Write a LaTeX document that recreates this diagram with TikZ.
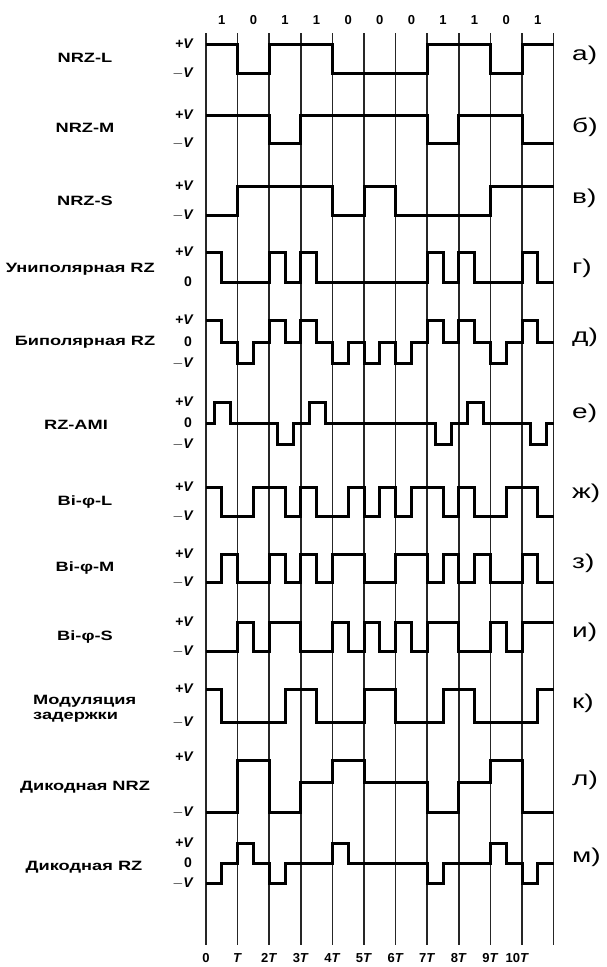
\documentclass[tikz,border=0pt]{standalone}
\usepackage{fontspec}
\setmainfont{Liberation Sans}
\newfontfamily\namefont{Liberation Sans}[FakeStretch=1.35]
\newfontfamily\letfont{Liberation Sans}[FakeStretch=1.4]
\begin{document}
\begin{tikzpicture}[x=1pt,y=-1pt,
  sig/.style={line width=3pt},
  gridline/.style={line width=1.5pt,black!85},
  nm/.style={font=\namefont\bfseries\fontsize{13.5}{15}\selectfont,align=center,inner sep=0pt},
  lv/.style={font=\bfseries\fontsize{14}{15}\selectfont,anchor=east,inner sep=0pt},
  lt/.style={font=\letfont\fontsize{20}{22}\selectfont,anchor=west,inner sep=0pt},
  bitlbl/.style={font=\bfseries\fontsize{13}{14}\selectfont,inner sep=0pt},
  tlbl/.style={font=\bfseries\fontsize{13}{14}\selectfont,inner sep=0pt}]
\useasboundingbox (0,0) rectangle (606,967);
\fill[white] (0,0) rectangle (606,967);

% row names
\node[nm] (nA) at (85,58) {NRZ-L};
\node[nm] (nB) at (85,128) {NRZ-M};
\node[nm] (nC) at (85,201) {NRZ-S};
\node[nm,anchor=east] (nD) at (155,269) {Униполярная RZ};
\node[nm] (nE) at (85,342) {Биполярная RZ};
\node[nm] (nF) at (76,425) {RZ-AMI};
\node[nm] (nG) at (85,502) {Bi-φ-L};
\node[nm] (nH) at (85,568) {Bi-φ-M};
\node[nm] (nI) at (85,637) {Bi-φ-S};
\node[nm,align=left,anchor=west] (nJ) at (33,709) {Модуляция\\задержки};
\node[nm] (nK) at (85,787) {Дикодная NRZ};
\node[nm] (nL) at (84,867) {Дикодная RZ};

% level labels
\node[lv] (lA1) at (194,44) {+\textit{V}};
\node[lv] (lA2) at (194,73) {\(-\)\textit{V}};
\node[lv] (lB1) at (194,115) {+\textit{V}};
\node[lv] (lB2) at (194,143) {\(-\)\textit{V}};
\node[lv] (lC1) at (194,186) {+\textit{V}};
\node[lv] (lC2) at (194,215) {\(-\)\textit{V}};
\node[lv] (lD1) at (194,252) {+\textit{V}};
\node[lv] (lD2) at (192,282) {0};
\node[lv] (lE1) at (194,320) {+\textit{V}};
\node[lv] (lE2) at (192,342) {0};
\node[lv] (lE3) at (194,363) {\(-\)\textit{V}};
\node[lv] (lF1) at (194,402) {+\textit{V}};
\node[lv] (lF2) at (192,423) {0};
\node[lv] (lF3) at (194,444) {\(-\)\textit{V}};
\node[lv] (lG1) at (194,487) {+\textit{V}};
\node[lv] (lG2) at (194,516) {\(-\)\textit{V}};
\node[lv] (lH1) at (194,554) {+\textit{V}};
\node[lv] (lH2) at (194,582) {\(-\)\textit{V}};
\node[lv] (lI1) at (194,622) {+\textit{V}};
\node[lv] (lI2) at (194,651) {\(-\)\textit{V}};
\node[lv] (lJ1) at (194,689) {+\textit{V}};
\node[lv] (lJ2) at (194,722) {\(-\)\textit{V}};
\node[lv] (lK1) at (194,757) {+\textit{V}};
\node[lv] (lK2) at (194,812) {\(-\)\textit{V}};
\node[lv] (lL1) at (194,843) {+\textit{V}};
\node[lv] (lL2) at (192,863) {0};
\node[lv] (lL3) at (194,883) {\(-\)\textit{V}};

% letters
\node[lt] (cA) at (572,55) {а)};
\node[lt] (cB) at (572,127) {б)};
\node[lt] (cC) at (572,198) {в)};
\node[lt] (cD) at (572,268) {г)};
\node[lt] (cE) at (572,337) {д)};
\node[lt] (cF) at (572,413) {е)};
\node[lt] (cG) at (572,493) {ж)};
\node[lt] (cH) at (572,563) {з)};
\node[lt] (cI) at (572,632) {и)};
\node[lt] (cJ) at (572,703) {к)};
\node[lt] (cK) at (572,780) {л)};
\node[lt] (cL) at (572,857) {м)};

\begin{scope}[xshift=206pt,x=31.6pt,y=-1pt]
  % grid
  \foreach \k in {0,...,11} \draw[gridline] (\k,33) -- (\k,945);
  % bit labels
  \foreach \b [count=\i from 0] in {1,0,1,1,0,0,0,1,1,0,1}
    \node[bitlbl] (bit\i) at (\i+0.5,20) {\b};
  % time labels
  \node[tlbl] (t0) at (0,958) {0};
  \node[tlbl] (t1) at (1,958) {\textit{T}};
  \foreach \k in {2,...,9} \node[tlbl] (t\k) at (\k,958) {\k\textit{T}};
  \node[tlbl] (t10) at (9.85,958) {10\textit{T}};

  % a) NRZ-L
  \draw[sig] (0,44) -| (1,73) -| (2,44) -| (4,73) -| (7,44) -| (9,73) -| (10,44) -- (11,44);
  % b) NRZ-M
  \draw[sig] (0,115) -| (2,143) -| (3,115) -| (7,143) -| (8,115) -| (10,143) -- (11,143);
  % c) NRZ-S
  \draw[sig] (0,215) -| (1,186) -| (4,215) -| (5,186) -| (6,215) -| (9,186) -- (11,186);
  % d) unipolar RZ
  \draw[sig] (0,252) -| (0.5,282) -| (2,252) -| (2.5,282) -| (3,252) -| (3.5,282)
     -| (7,252) -| (7.5,282) -| (8,252) -| (8.5,282) -| (10,252) -| (10.5,282) -- (11,282);
  % e) bipolar RZ
  \draw[sig] (0,320) -| (0.5,342) -| (1,363) -| (1.5,342) -| (2,320) -| (2.5,342)
     -| (3,320) -| (3.5,342) -| (4,363) -| (4.5,342) -| (5,363) -| (5.5,342)
     -| (6,363) -| (6.5,342) -| (7,320) -| (7.5,342) -| (8,320) -| (8.5,342)
     -| (9,363) -| (9.5,342) -| (10,320) -| (10.5,342) -- (11,342);
  % f) RZ-AMI
  \draw[sig] (0,423) -| (0.27,402) -| (0.77,423) -| (2.27,444) -| (2.77,423)
     -| (3.27,402) -| (3.77,423) -| (7.27,444) -| (7.77,423) -| (8.27,402)
     -| (8.77,423) -| (10.27,444) -| (10.77,423) -- (11,423);
  % g) Bi-phi-L
  \draw[sig] (0,487) -| (0.5,516) -| (1.5,487) -| (2.5,516) -| (3,487) -| (3.5,516)
     -| (4.5,487) -| (5,516) -| (5.5,487) -| (6,516) -| (6.5,487) -| (7.5,516)
     -| (8,487) -| (8.5,516) -| (9.5,487) -| (10.5,516) -- (11,516);
  % h) Bi-phi-M
  \draw[sig] (0,582) -| (0.5,554) -| (1,582) -| (2,554) -| (2.5,582) -| (3,554)
     -| (3.5,582) -| (4,554) -| (5,582) -| (6,554) -| (7,582) -| (7.5,554)
     -| (8,582) -| (8.5,554) -| (9,582) -| (10,554) -| (10.5,582) -- (11,582);
  % i) Bi-phi-S
  \draw[sig] (0,651) -| (1,622) -| (1.5,651) -| (2,622) -| (3,651) -| (4,622)
     -| (4.5,651) -| (5,622) -| (5.5,651) -| (6,622) -| (6.5,651) -| (7,622)
     -| (8,651) -| (9,622) -| (9.5,651) -| (10,622) -- (11,622);
  % j) delay modulation
  \draw[sig] (0,689) -| (0.5,722) -| (2.5,689) -| (3.5,722) -| (5,689) -| (6,722)
     -| (7.5,689) -| (8.5,722) -| (10.5,689) -- (11,689);
  % k) dicode NRZ
  \draw[sig] (0,812) -| (1,760) -| (2,812) -| (3,782) -| (4,760) -| (5,782)
     -| (7,812) -| (8,782) -| (9,760) -| (10,812) -- (11,812);
  % l) dicode RZ
  \draw[sig] (0,883) -| (0.5,863) -| (1,843) -| (1.5,863) -| (2,883) -| (2.5,863)
     -| (4,843) -| (4.5,863) -| (7,883) -| (7.5,863) -| (9,843) -| (9.5,863)
     -| (10,883) -| (10.5,863) -- (11,863);
\end{scope}
\end{tikzpicture}
\end{document}
